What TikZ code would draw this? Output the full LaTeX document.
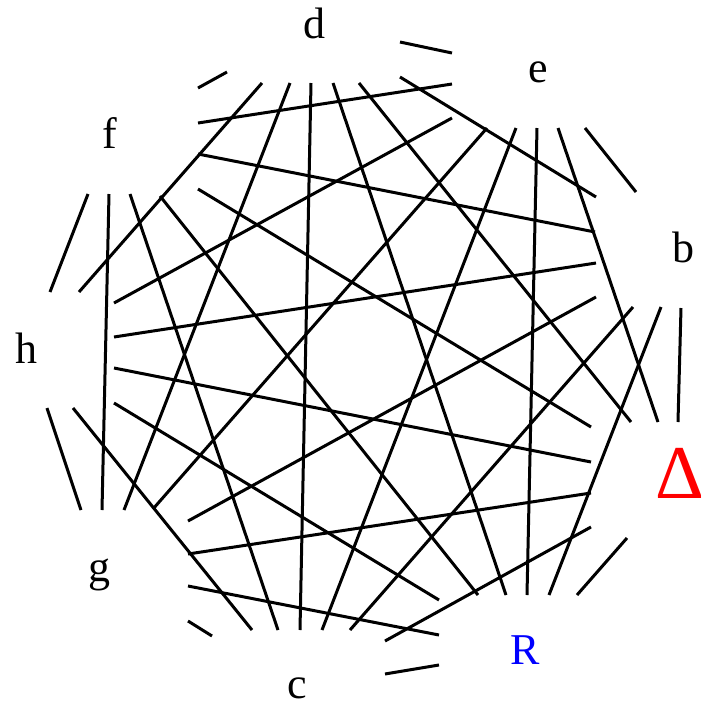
\documentclass[tikz,border=0pt]{standalone}
\usepackage{fontspec}
\setmainfont{Liberation Serif}
\begin{document}
\begin{tikzpicture}[x=0.5pt,y=-0.5pt,
  seg/.style={line width=1.5pt,black},
  lbl/.style={inner sep=0pt,anchor=center,font=\fontsize{22}{24}\selectfont}]
\useasboundingbox (0,0) rectangle (708,703);
% short segments
\draw[seg] (198,88) -- (227,72);
\draw[seg] (88,194) -- (50,292);
\draw[seg] (47,408) -- (81,510);
\draw[seg] (188,621) -- (212,636);
\draw[seg] (385,674) -- (439,665);
\draw[seg] (577,595) -- (627,538);
\draw[seg] (681,308) -- (678,422);
\draw[seg] (585,128) -- (636,192);
\draw[seg] (400,42) -- (452,53);
% long lines
\draw[seg] (198,123) -- (452,84);
\draw[seg] (198,154) -- (595,232);
\draw[seg] (198,189) -- (591,427);
\draw[seg] (109,194) -- (102,510);
\draw[seg] (130,194) -- (278,630);
\draw[seg] (160,196) -- (478,595);
\draw[seg] (262,83) -- (79,292);
\draw[seg] (114,303) -- (452,118);
\draw[seg] (114,337) -- (596,263);
\draw[seg] (114,368) -- (591,462);
\draw[seg] (114,403) -- (439,600);
\draw[seg] (73,408) -- (252,630);
\draw[seg] (124,510) -- (290,83);
\draw[seg] (153,509) -- (487,128);
\draw[seg] (188,521) -- (596,297);
\draw[seg] (188,554) -- (591,493);
\draw[seg] (188,586) -- (439,635);
\draw[seg] (311,83) -- (300,630);
\draw[seg] (322,630) -- (516,128);
\draw[seg] (350,630) -- (633,307);
\draw[seg] (385,641) -- (591,527);
\draw[seg] (506,595) -- (333,83);
\draw[seg] (527,595) -- (537,128);
\draw[seg] (549,595) -- (661,307);
\draw[seg] (359,83) -- (631,422);
\draw[seg] (558,128) -- (658,422);
\draw[seg] (400,77) -- (596,197);
% labels
\node[lbl] (ld) at (314,23) {d};
\node[lbl] (le) at (538,72) {e};
\node[lbl] (lb) at (683,247) {b};
\node[lbl,text=red,font=\fontsize{38}{40}\selectfont] (lD) at (680,473) {Δ};
\node[lbl,text=blue] (lR) at (525,650) {R};
\node[lbl] (lc) at (297,688) {c};
\node[lbl] (lg) at (100,575) {g};
\node[lbl] (lh) at (27,348) {h};
\node[lbl] (lf) at (110,133) {f};
\end{tikzpicture}
\end{document}
